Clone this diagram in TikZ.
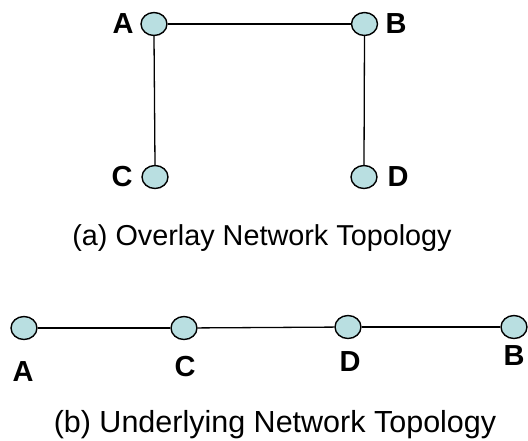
\documentclass[tikz,border=0pt]{standalone}
\usepackage{fontspec}
\setmainfont{Liberation Sans}
\usetikzlibrary{shapes.geometric}
\definecolor{nodefill}{RGB}{185,223,225}
\begin{document}
\begin{tikzpicture}[x=1pt,y=-1pt,
  peer/.style={ellipse,draw=black,line width=1.4pt,fill=nodefill,minimum width=26pt,minimum height=23pt,inner sep=0pt},
  lbl/.style={inner sep=0pt,font=\fontsize{29}{29}\selectfont\bfseries},
  link/.style={line width=1.3pt,black},
  captext/.style={inner sep=0pt,anchor=base}]
\useasboundingbox (0,0) rectangle (528,440);
% (a)
\node[peer] (a1) at (154,24) {};
\node[peer] (b1) at (364.5,24) {};
\node[peer] (c1) at (155,177) {};
\node[peer] (d1) at (364,177) {};
\draw[link] (a1) -- (b1);
\draw[link] (a1.south) -- (c1.north);
\draw[link] (b1.south) -- (d1.north);
\node[lbl] (la1) at (123,24) {A};
\node[lbl] (lb1) at (396,24) {B};
\node[lbl] (lc1) at (122,177) {C};
\node[lbl] (ld1) at (398,177) {D};
\node[captext,font=\fontsize{28.8}{28.8}\selectfont] (capa) at (262,245) {(a) Overlay Network Topology};
% (b)
\node[peer] (a2) at (24,328) {};
\node[peer] (c2) at (184,328) {};
\node[peer] (d2) at (348,327) {};
\node[peer] (b2) at (514,327) {};
\draw[link] (a2) -- (c2);
\draw[link] (c2) -- (d2);
\draw[link] (d2) -- (b2);
\node[lbl] (la2) at (23,372) {A};
\node[lbl] (lc2) at (185,367) {C};
\node[lbl] (ld2) at (350,362) {D};
\node[lbl] (lb2) at (514,356) {B};
\node[captext,font=\fontsize{30.5}{30.5}\selectfont] (capb) at (275,432) {(b) Underlying Network Topology};
\end{tikzpicture}
\end{document}
